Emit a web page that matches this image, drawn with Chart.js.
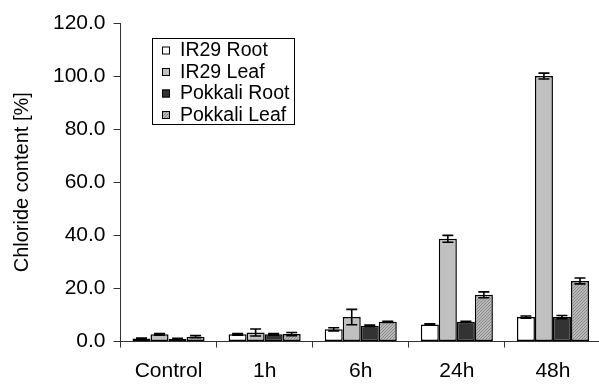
<!DOCTYPE html>
<html>
<head>
<meta charset="utf-8">
<script src="https://cdn.jsdelivr.net/npm/chart.js@4.4.0/dist/chart.umd.min.js"></script>
<style>
  html, body { margin: 0; padding: 0; background: #fff; overflow: hidden; }
  #wrap { width: 602px; height: 385px; }
</style>
</head>
<body>
<div id="wrap"><canvas id="chloride"></canvas></div>
<script>
// data
const categories = ["Control", "1h", "6h", "24h", "48h"];
const seriesNames = ["IR29 Root", "IR29 Leaf", "Pokkali Root", "Pokkali Leaf"];
const ir29Root = [1.1, 2.7, 4.6, 6.4, 9.2];
const ir29Leaf = [2.7, 3.4, 9.2, 38.7, 100.0];
const pokkaliRoot = [1.0, 2.7, 5.9, 7.4, 9.2];
const pokkaliLeaf = [1.8, 2.8, 7.4, 17.6, 22.8];
const ir29RootErr = [0.2, 0.3, 0.6, 0.3, 0.4];
const ir29LeafErr = [0.3, 1.3, 2.9, 1.3, 1.1];
const pokkaliRootErr = [0.2, 0.3, 0.3, 0.2, 0.6];
const pokkaliLeafErr = [0.4, 0.6, 0.2, 1.1, 1.1];
const yTicks = [0, 20, 40, 60, 80, 100, 120];

// fine hatched grey fill for Pokkali Leaf
function makeHatch() {
    const c = document.createElement("canvas");
    c.width = 3; c.height = 3;
    const g = c.getContext("2d");
    g.fillStyle = "#b8b8b8";
    g.fillRect(0, 0, 3, 3);
    g.fillStyle = "#8a8a8a";
    for (let i = 0; i < 3; i++) g.fillRect(i, 2 - i, 1, 1);
    return g.createPattern(c, "repeat");
}
const hatch = makeHatch();

const fills = ["#ffffff", "#c0c0c0", "#333333", hatch];
const values = [ir29Root, ir29Leaf, pokkaliRoot, pokkaliLeaf];
const errors = [ir29RootErr, ir29LeafErr, pokkaliRootErr, pokkaliLeafErr];

// error bars drawn on top of each bar
const errorBars = {
    id: "errorBars",
    afterDatasetsDraw(chart) {
        const ctx = chart.ctx;
        const y = chart.scales.y;
        ctx.save();
        ctx.strokeStyle = "#000";
        ctx.lineWidth = 1.6;
        chart.data.datasets.forEach((ds, di) => {
            const meta = chart.getDatasetMeta(di);
            meta.data.forEach((bar, i) => {
                const v = ds.data[i], e = errors[di][i];
                const top = y.getPixelForValue(v + e);
                const bot = y.getPixelForValue(v - e);
                const half = 5.5;
                ctx.beginPath();
                ctx.moveTo(bar.x, top); ctx.lineTo(bar.x, bot);
                ctx.moveTo(bar.x - half, top); ctx.lineTo(bar.x + half, top);
                ctx.moveTo(bar.x - half, bot); ctx.lineTo(bar.x + half, bot);
                ctx.stroke();
            });
        });
        ctx.restore();
    }
};

// legend box inside the plot, top left
const boxLegend = {
    id: "boxLegend",
    afterDraw(chart) {
        const ctx = chart.ctx;
        ctx.save();
        ctx.strokeStyle = "#000";
        ctx.lineWidth = 1;
        ctx.strokeRect(152.5, 38.5, 142, 86);
        ctx.font = "19.5px 'Liberation Sans', Arial, sans-serif";
        ctx.textBaseline = "middle";
        ctx.fillStyle = "#000";
        const rows = [50, 71.5, 93, 114.5];
        seriesNames.forEach((name, i) => {
            ctx.fillStyle = fills[i];
            ctx.fillRect(162, rows[i] - 3.5, 8, 8);
            ctx.strokeRect(162.5, rows[i] - 3, 7, 7);
            ctx.fillStyle = "#000";
            ctx.fillText(name, 180, rows[i] + 1);
        });
        ctx.restore();
    }
};

new Chart(document.getElementById("chloride"), {
    type: "bar",
    data: {
        labels: categories,
        datasets: seriesNames.map((name, i) => ({
            label: name,
            data: values[i],
            backgroundColor: fills[i],
            borderColor: "#000",
            borderWidth: 1.5,
            borderSkipped: false,
            categoryPercentage: 0.75,
            barPercentage: 1.0
        }))
    },
    options: {
        responsive: true,
        maintainAspectRatio: false,
        animation: false,
        devicePixelRatio: 1,
        layout: { padding: { top: 23, right: 1, left: 0, bottom: 0 } },
        plugins: {
            legend: { display: false },
            tooltip: { enabled: false }
        },
        scales: {
            x: {
                grid: { offset: true, drawOnChartArea: false, tickLength: 6, color: "#333", lineWidth: 1 },
                border: { color: "#333", width: 1 },
                ticks: { color: "#000", padding: 11, font: { family: "'Liberation Sans', Arial", size: 21 } },
                afterFit: s => { s.height = 43.5; }
            },
            y: {
                min: 0,
                max: 120,
                afterBuildTicks: s => { s.ticks = yTicks.map(v => ({ value: v })); },
                grid: { drawOnChartArea: false, tickLength: 7, color: "#333" },
                border: { color: "#333", width: 1 },
                ticks: {
                    color: "#000",
                    padding: 8,
                    font: { family: "'Liberation Sans', Arial", size: 21 },
                    callback: v => Number(v).toFixed(1)
                },
                title: {
                    display: true,
                    text: "Chloride content [%]",
                    color: "#000",
                    padding: { top: 10, bottom: 0 },
                    font: { family: "'Liberation Sans', Arial", size: 20 }
                },
                afterFit: s => { s.width = 120.5; }
            }
        }
    },
    plugins: [errorBars, boxLegend]
});
</script>
</body>
</html>
